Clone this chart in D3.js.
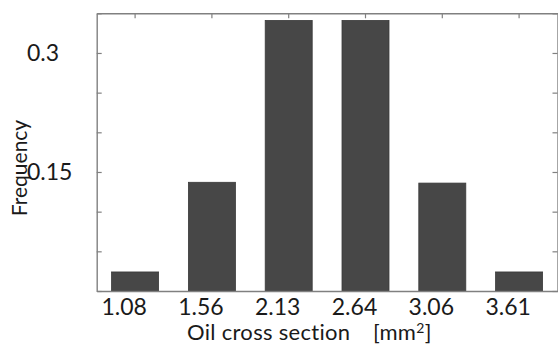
<!DOCTYPE html>
<html>
<head>
<meta charset="utf-8">
<script src="https://cdn.jsdelivr.net/npm/d3@7"></script>
<style>
  body { margin: 0; background: #fff; }
  text { font-family: Lato, "Open Sans", sans-serif; fill: #1a1a1a; }
</style>
</head>
<body>
<div id="vis"></div>
<script>
// data
const categories = ["1.08", "1.56", "2.13", "2.64", "3.06", "3.61"];
const frequency = [0.024, 0.137, 0.341, 0.341, 0.136, 0.024];
const yTicks = [0, 0.05, 0.1, 0.15, 0.2, 0.25, 0.3, 0.35];
const yTickLabels = [0.15, 0.3];

// set constants
const FRAME_WIDTH = 558;
const FRAME_HEIGHT = 349;
const MARGINS = {left: 96.7, right: 0.5, top: 13.3, bottom: 58};

const FRAME = d3.select("#vis")
  .append("svg")
    .attr("width", FRAME_WIDTH)
    .attr("height", FRAME_HEIGHT);

const X_SCALE = d3.scaleBand()
  .domain(categories)
  .range([MARGINS.left, FRAME_WIDTH - MARGINS.right])
  .paddingInner(0.388)
  .paddingOuter(0.194);

const Y_SCALE = d3.scaleLinear()
  .domain([0, 0.35])
  .range([FRAME_HEIGHT - MARGINS.bottom, MARGINS.top]);

const AXIS_COLOR = "#808080";

// bars
FRAME.append("g")
  .selectAll("rect")
  .data(frequency)
  .enter()
  .append("rect")
    .attr("x", (d, i) => X_SCALE(categories[i]))
    .attr("y", (d) => Y_SCALE(d))
    .attr("width", X_SCALE.bandwidth())
    .attr("height", (d) => Y_SCALE(0) - Y_SCALE(d))
    .attr("fill", "#474747")
    .attr("stroke", "#3a3a3a")
    .attr("stroke-width", 0.8);

// inward ticks on all sides, no labels
function styleAxis(g) {
  g.select(".domain").attr("stroke", AXIS_COLOR).attr("stroke-width", 1.4);
  g.selectAll(".tick line").attr("stroke", AXIS_COLOR).attr("stroke-width", 1.2);
  g.selectAll(".tick text").remove();
}

FRAME.append("g")
  .attr("transform", "translate(" + MARGINS.left + ",0)")
  .call(d3.axisRight(Y_SCALE).tickValues(yTicks).tickSize(5).tickSizeOuter(0))
  .call(styleAxis);

FRAME.append("g")
  .attr("transform", "translate(" + (FRAME_WIDTH - MARGINS.right) + ",0)")
  .call(d3.axisLeft(Y_SCALE).tickValues(yTicks).tickSize(5).tickSizeOuter(0))
  .call(styleAxis);

FRAME.append("g")
  .attr("transform", "translate(0," + MARGINS.top + ")")
  .call(d3.axisBottom(X_SCALE).tickSize(5).tickSizeOuter(0))
  .call(styleAxis);

// bottom axis with labels
const xAxis = FRAME.append("g")
  .attr("transform", "translate(0," + Y_SCALE(0) + ")")
  .call(d3.axisBottom(X_SCALE).tickSize(0).tickSizeOuter(0).tickPadding(7));
xAxis.select(".domain").attr("stroke", AXIS_COLOR).attr("stroke-width", 1.4);
xAxis.selectAll("text")
  .attr("dx", -11)
  .attr("dy", "0.72em")
  .style("font-family", "Lato, 'Open Sans', sans-serif")
  .style("font-size", "23px")
  .style("fill", "#1a1a1a");

// y tick labels
FRAME.append("g")
  .selectAll("text")
  .data(yTickLabels)
  .enter()
  .append("text")
    .attr("x", 27)
    .attr("y", (d) => Y_SCALE(d))
    .attr("dy", "0.35em")
    .style("font-size", "23px")
    .text((d) => d);

// Y label
FRAME.append("text")
  .attr("transform", "translate(27,168) rotate(-90)")
  .attr("text-anchor", "middle")
  .style("font-size", "21px")
  .text("Frequency");

// X label
const xLabel = FRAME.append("text")
  .attr("x", 187)
  .attr("y", 340)
  .style("font-size", "22px")
  .style("letter-spacing", "0.3px");
xLabel.append("tspan").text("Oil cross section");
xLabel.append("tspan").attr("x", 373).text("[mm");
xLabel.append("tspan").attr("dy", -7).style("font-size", "14px").text("2");
xLabel.append("tspan").attr("dy", 7).text("]");
</script>
</body>
</html>
